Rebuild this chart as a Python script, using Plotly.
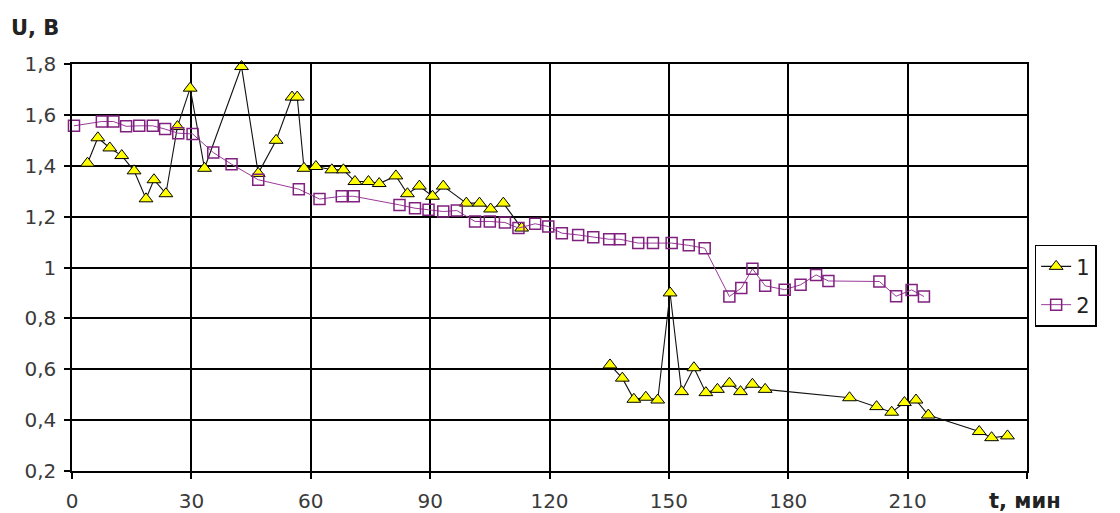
import plotly.graph_objects as go

# Time, minutes, and voltage, volts, for the two cells (None marks the break in series 1)
t_1 = [3.9, 6.5, 9.5, 12.5, 15.6, 18.6, 20.6, 23.6, 26.5, 29.7, 33.3, 42.6, 46.8, 51.3,
       55.3, 56.6, 58.3, 61.3, 65.3, 68.2, 71.1, 74.5, 77.2, 81.4, 84.3, 87.3, 90.6, 93.3,
       99.1, 102.4, 105.2, 108.4, 113.0, None,
       135.2, 138.3, 141.2, 144.2, 147.2, 150.3, 153.2, 156.3, 159.3, 162.2, 165.2, 168.0,
       171.0, 174.2, 195.4, 202.2, 206.0, 209.2, 212.1, 215.2, 228.0, 231.1, 235.1]
u_1 = [1.41, 1.51, 1.47, 1.44, 1.38, 1.27, 1.345, 1.29, 1.554, 1.705, 1.39, 1.79, 1.37, 1.50,
       1.67, 1.67, 1.39, 1.397, 1.384, 1.384, 1.338, 1.338, 1.33, 1.36, 1.29, 1.32, 1.28, 1.32,
       1.253, 1.253, 1.23, 1.253, 1.155, None,
       0.617, 0.565, 0.482, 0.49, 0.479, 0.90, 0.512, 0.606, 0.508, 0.521, 0.545, 0.512,
       0.541, 0.521, 0.488, 0.453, 0.431, 0.469, 0.479, 0.42, 0.355, 0.331, 0.338]

t_2 = [0.5, 7.5, 10.4, 13.6, 16.9, 20.3, 23.4, 26.7, 30.3, 35.5, 40.1, 46.8, 57.0, 62.2,
       67.8, 70.8, 82.3, 86.2, 89.6, 93.3, 96.7, 101.3, 105.0, 108.8, 112.2, 116.4, 119.7,
       123.1, 127.2, 131.0, 135.0, 137.7, 142.3, 146.0, 150.7, 155.0, 159.0, 165.2, 168.2,
       171.0, 174.2, 179.1, 183.1, 187.0, 190.1, 202.9, 207.1, 211.0, 214.1]
u_2 = [1.557, 1.574, 1.574, 1.555, 1.557, 1.557, 1.544, 1.528, 1.525, 1.452, 1.406, 1.345,
       1.308, 1.269, 1.28, 1.28, 1.246, 1.233, 1.227, 1.22, 1.224, 1.181, 1.181, 1.177,
       1.155, 1.172, 1.161, 1.135, 1.128, 1.119, 1.111, 1.111, 1.096, 1.096, 1.096, 1.087,
       1.076, 0.886, 0.919, 0.995, 0.928, 0.913, 0.932, 0.971, 0.947, 0.945, 0.887, 0.912,
       0.886]

x_ticks = [0, 30, 60, 90, 120, 150, 180, 210, 240]
x_labels = ["0", "30", "60", "90", "120", "150", "180", "210", ""]
y_ticks = [0.2, 0.4, 0.6, 0.8, 1.0, 1.2, 1.4, 1.6, 1.8]
y_labels = ["0,2", "0,4", "0,6", "0,8", "1", "1,2", "1,4", "1,6", "1,8"]

FONT = "DejaVu Sans"

fig = go.Figure()
fig.add_trace(go.Scatter(
    x=t_1, y=u_1, name="1", legendgroup="s1",
    mode="lines+markers", connectgaps=False, cliponaxis=False,
    line=dict(color="#111111", width=1.1),
    marker=dict(symbol="triangle-up", size=12, color="#ffff00",
                line=dict(color="#000000", width=1)),
))
fig.add_trace(go.Scatter(
    x=t_2, y=u_2, name="2", legendgroup="s2",
    mode="lines+markers", cliponaxis=False,
    line=dict(color="#9a3a9a", width=1),
    marker=dict(symbol="square-open", size=11, color="#80207f",
                line=dict(color="#80207f", width=1.5)),
))

axis_common = dict(
    showgrid=True, gridcolor="#000000", gridwidth=1.5,
    showline=True, linecolor="#000000", linewidth=1.5, mirror=True,
    ticks="outside", ticklen=6, tickwidth=1.5, tickcolor="#000000",
    tickfont=dict(family=FONT, size=20, color="#3a3a3a"),
    zeroline=False, fixedrange=True, automargin=False,
)

fig.update_xaxes(range=[0, 240], tickvals=x_ticks, ticktext=x_labels,
                 ticklabelstandoff=5, **axis_common)
fig.update_yaxes(range=[0.2, 1.8], tickvals=y_ticks, ticktext=y_labels,
                 ticklabelstandoff=4, **axis_common)

fig.add_annotation(text="<b>U, B</b>", xref="paper", yref="paper", x=-0.066, y=1.0,
                   xanchor="left", yanchor="bottom", yshift=22, showarrow=False,
                   font=dict(family=FONT, size=21, color="#222222"))
fig.add_annotation(text="<b>t, мин</b>", xref="paper", yref="paper", x=0.958, y=0,
                   xanchor="left", yanchor="top", yshift=-16, showarrow=False,
                   font=dict(family=FONT, size=21, color="#222222"))

fig.update_layout(
    width=1120, height=513,
    margin=dict(l=72, r=93, t=64, b=42, autoexpand=False),
    paper_bgcolor="#ffffff", plot_bgcolor="#ffffff",
    showlegend=True,
    legend=dict(x=1.008, y=0.556, xanchor="left", yanchor="top",
                bgcolor="#ffffff", bordercolor="#000000", borderwidth=1.5,
                font=dict(family=FONT, size=21, color="#222222"),
                tracegroupgap=8, itemwidth=30),
)

fig.write_html("out.html", config={"displayModeBar": False})
